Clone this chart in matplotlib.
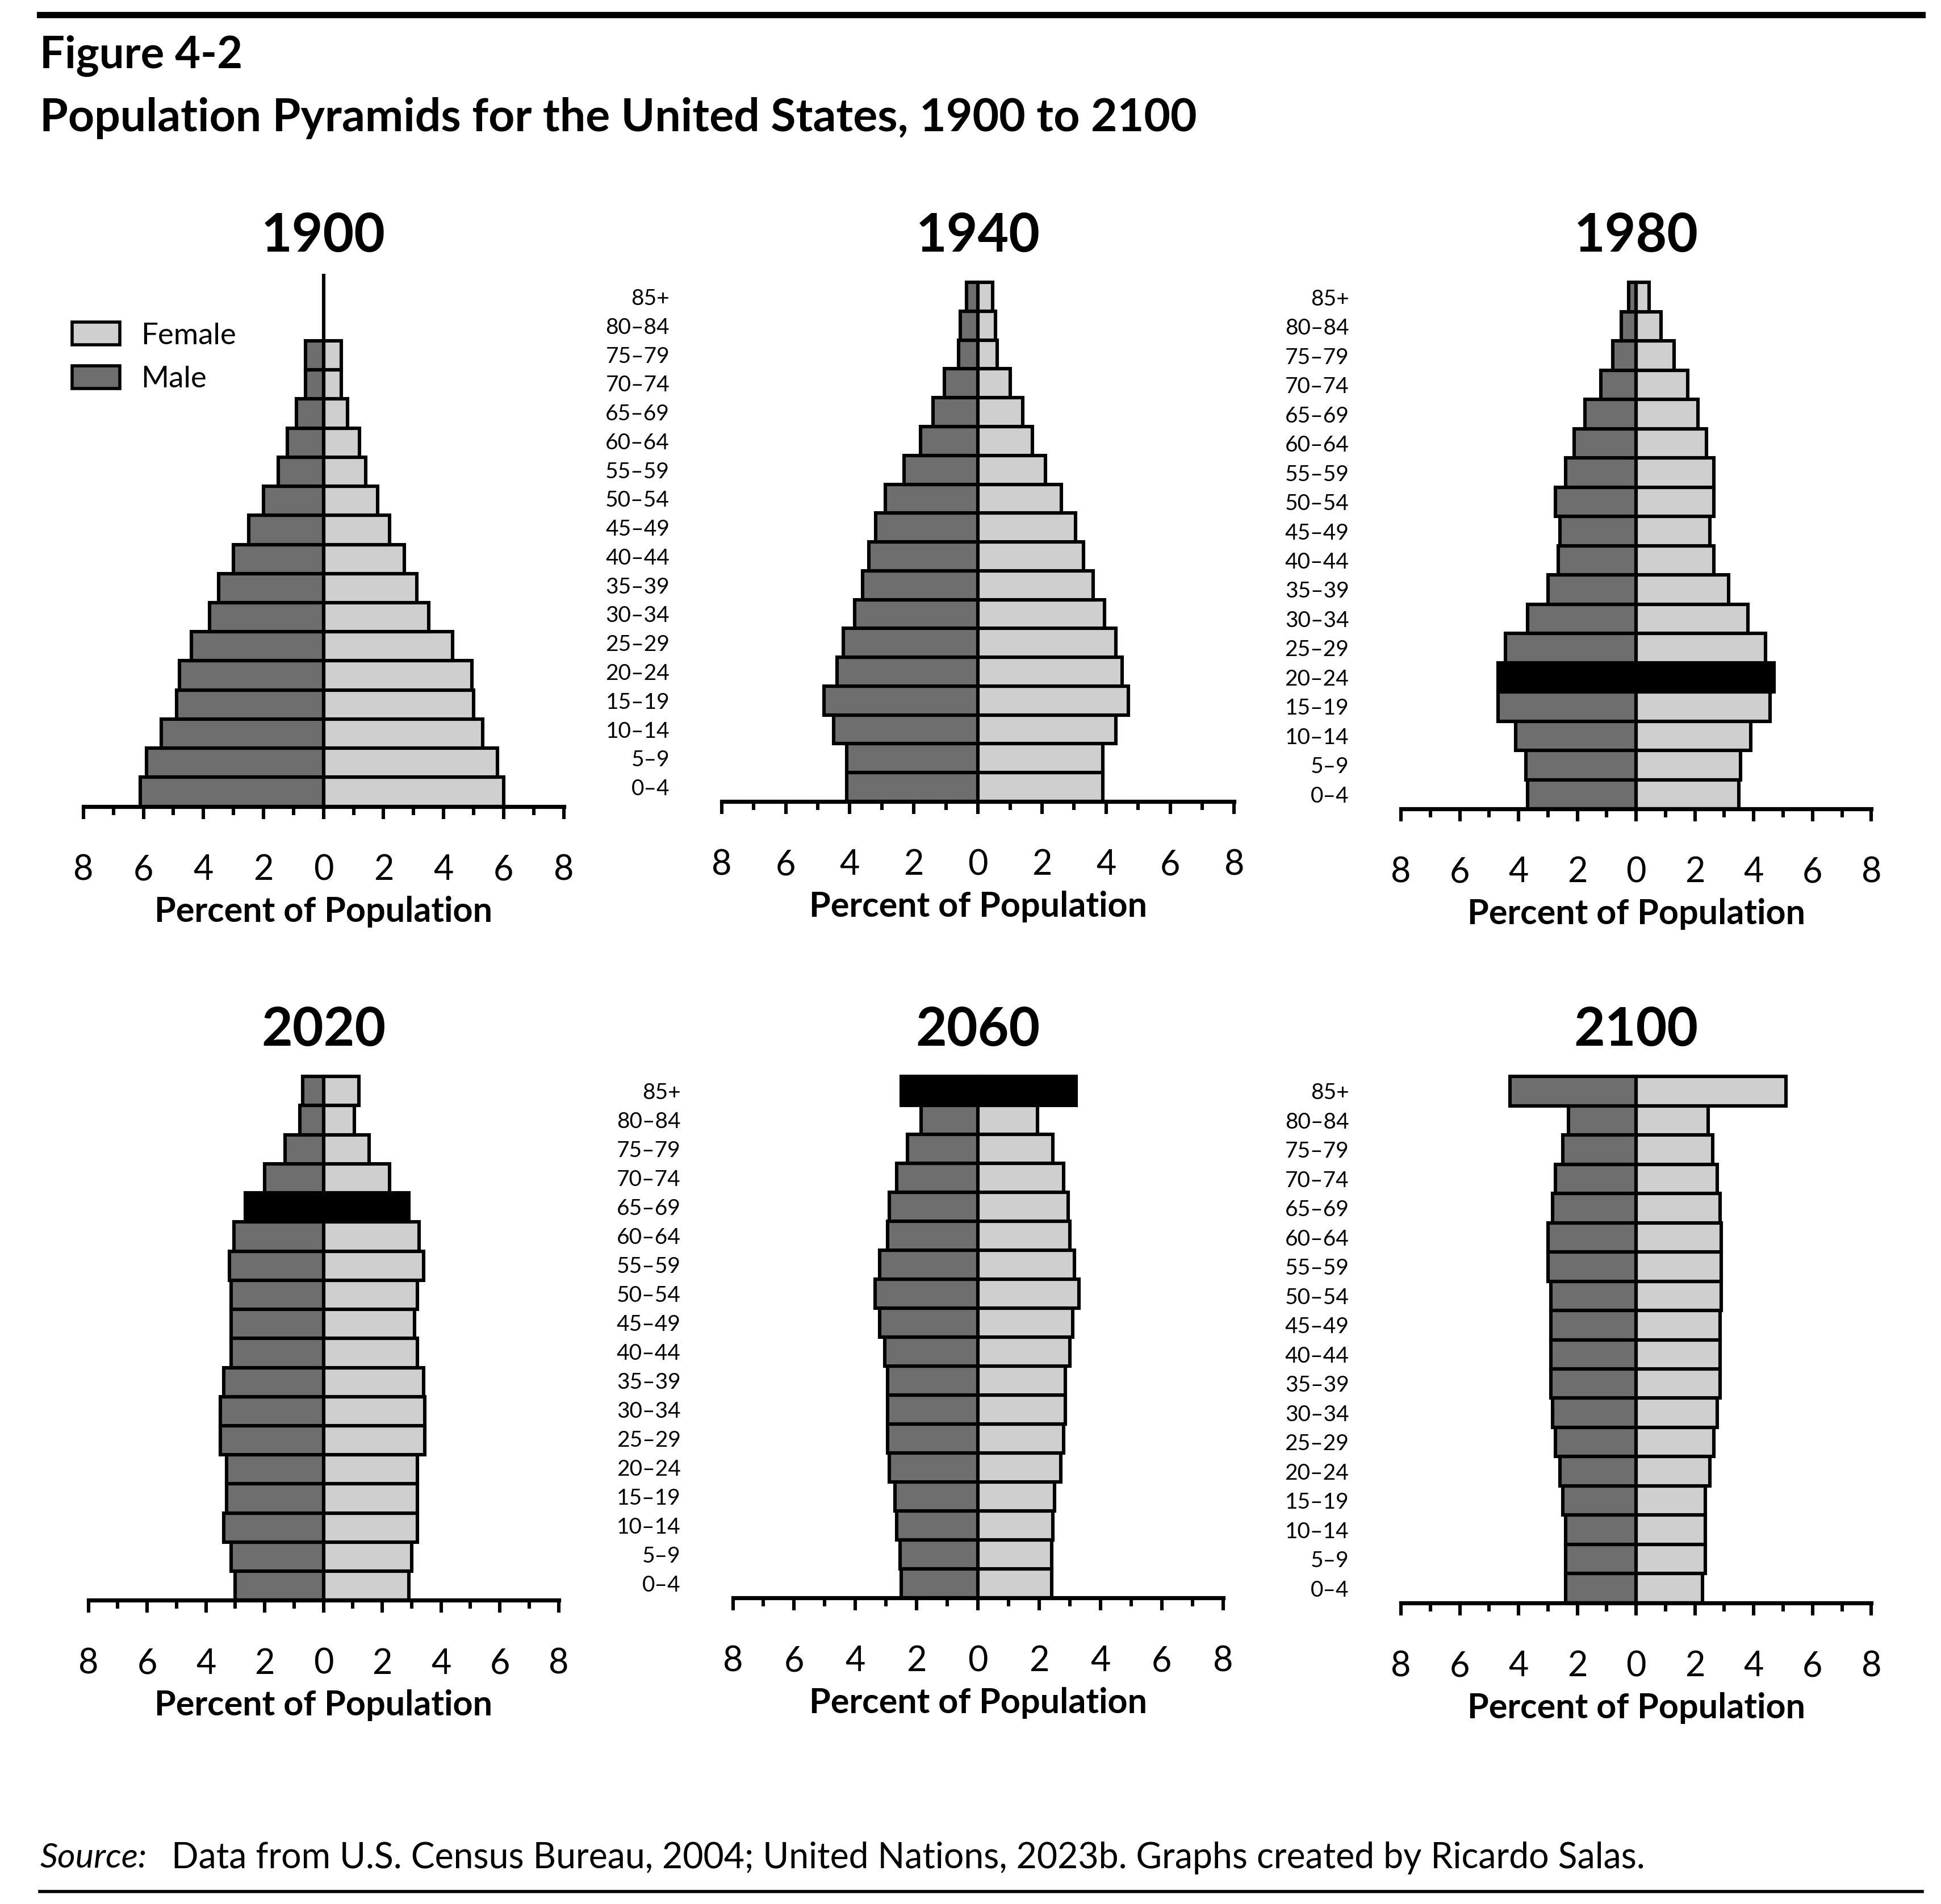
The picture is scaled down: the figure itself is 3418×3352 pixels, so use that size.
import matplotlib
matplotlib.use("Agg")
import matplotlib.pyplot as plt
from matplotlib.patches import Patch
from matplotlib.ticker import MultipleLocator
import numpy as np

plt.rcParams['font.family'] = ['Lato', 'DejaVu Sans']

ages = ["0–4","5–9","10–14","15–19","20–24","25–29","30–34","35–39","40–44","45–49",
        "50–54","55–59","60–64","65–69","70–74","75–79","80–84","85+"]
years = ["1900","1940","1980","2020","2060","2100"]

male = {
 "1900": [6.1,5.9,5.4,4.9,4.8,4.4,3.8,3.5,3.0,2.5,2.0,1.5,1.2,0.9,0.6,0.6,0,0],
 "1940": [4.1,4.1,4.5,4.8,4.4,4.2,3.85,3.6,3.4,3.2,2.9,2.3,1.8,1.4,1.05,0.6,0.55,0.35],
 "1980": [3.7,3.75,4.1,4.7,4.7,4.45,3.7,3.0,2.65,2.6,2.75,2.4,2.1,1.75,1.2,0.8,0.5,0.25],
 "2020": [3.0,3.15,3.4,3.3,3.3,3.5,3.5,3.4,3.15,3.15,3.15,3.2,3.05,2.65,2.0,1.3,0.8,0.7],
 "2060": [2.5,2.55,2.65,2.7,2.9,2.95,2.95,2.95,3.05,3.2,3.35,3.2,2.95,2.9,2.65,2.3,1.85,2.5],
 "2100": [2.4,2.4,2.4,2.5,2.6,2.75,2.85,2.9,2.9,2.9,2.9,3.0,3.0,2.85,2.75,2.5,2.3,4.3],
}
female = {
 "1900": [6.0,5.8,5.3,5.0,4.95,4.3,3.5,3.1,2.7,2.2,1.8,1.4,1.2,0.8,0.6,0.6,0,0],
 "1940": [3.9,3.9,4.3,4.7,4.5,4.3,3.95,3.6,3.3,3.05,2.6,2.1,1.7,1.4,1.0,0.6,0.55,0.45],
 "1980": [3.5,3.55,3.9,4.55,4.7,4.4,3.8,3.15,2.65,2.5,2.65,2.65,2.4,2.1,1.75,1.3,0.85,0.45],
 "2020": [2.9,3.0,3.2,3.2,3.2,3.45,3.45,3.4,3.2,3.1,3.2,3.4,3.25,2.9,2.25,1.55,1.05,1.2],
 "2060": [2.4,2.4,2.45,2.5,2.7,2.8,2.85,2.85,3.0,3.1,3.3,3.15,3.0,2.95,2.8,2.45,1.95,3.2],
 "2100": [2.25,2.35,2.35,2.35,2.5,2.65,2.75,2.85,2.85,2.85,2.9,2.9,2.9,2.85,2.75,2.6,2.45,5.1],
}
highlight = {"1980": "20–24", "2020": "65–69", "2060": "85+"}
show_age_labels = {"1900": False, "1940": True, "1980": True, "2020": False, "2060": True, "2100": True}

MALE_C = "#6e6e6e"
FEMALE_C = "#cfcfcf"

W, H = 1560.0, 1530.0
fig = plt.figure(figsize=(17.09, 16.76), dpi=200)

# (left, right, top, bottom) in reference display px
boxes = {
 "1900": (67, 453, 220, 648),
 "1940": (580, 992, 220, 644),
 "1980": (1126, 1504, 220, 650),
 "2020": (71, 449, 858, 1286),
 "2060": (589, 983, 858, 1284),
 "2100": (1126, 1504, 858, 1288),
}
title_y = {"1900": 190, "1940": 190, "1980": 190, "2020": 828, "2060": 828, "2100": 828}

y = np.arange(len(ages))
for yr in years:
    l, r, t, b = boxes[yr]
    ax = fig.add_axes([l / W, 1 - b / H, (r - l) / W, (b - t) / H])
    m = np.array(male[yr]); f = np.array(female[yr])
    mc = [("black" if highlight.get(yr) == a else MALE_C) for a in ages]
    fc = [("black" if highlight.get(yr) == a else FEMALE_C) for a in ages]
    mask = (m > 0) | (f > 0)
    ax.barh(y[mask], -m[mask], height=1.0, color=np.array(mc)[mask], edgecolor="black", linewidth=2.2, zorder=2)
    ax.barh(y[mask], f[mask], height=1.0, color=np.array(fc)[mask], edgecolor="black", linewidth=2.2, zorder=2)
    ax.set_xlim(-8, 8)
    ax.set_ylim(-0.5, 17.8)
    if yr == "1900":
        ax.axvline(0, color="black", lw=2.2, zorder=3)
    for s in ["top", "right", "left"]:
        ax.spines[s].set_visible(False)
    ax.spines["bottom"].set_linewidth(2.6)
    ax.xaxis.set_minor_locator(MultipleLocator(1))
    ax.set_xticks(np.arange(-8, 9, 2))
    ax.set_xticklabels([str(abs(v)) for v in range(-8, 9, 2)], fontsize=22)
    ax.tick_params(axis="x", which="major", direction="out", length=8, width=2.2, pad=22)
    ax.tick_params(axis="x", which="minor", direction="out", length=5.5, width=2.2)
    ax.set_xlabel("Percent of Population", fontsize=22, fontweight="bold", labelpad=6)
    if show_age_labels[yr]:
        ax.set_yticks(y)
        ax.set_yticklabels(ages, fontsize=14)
        ax.tick_params(axis="y", length=0, pad=33)
    else:
        ax.set_yticks([])
    cx = (l + r) / 2
    fig.text(cx / W, 1 - title_y[yr] / H, yr, fontsize=34, fontweight="bold", ha="center", va="center")
    if yr == "1900":
        handles = [Patch(facecolor=FEMALE_C, edgecolor="black", linewidth=2, label="Female"),
                   Patch(facecolor=MALE_C, edgecolor="black", linewidth=2, label="Male")]
        ax.legend(handles=handles, loc="upper left", bbox_to_anchor=(-0.08, 0.96), frameon=False,
                  fontsize=19, handlelength=1.6, handleheight=0.8, labelspacing=0.55, handletextpad=0.7)

fig.add_artist(plt.Line2D([32 / W, 1545 / W], [1 - 12 / H, 1 - 12 / H], color="black", lw=4))
fig.add_artist(plt.Line2D([32 / W, 1545 / W], [1 - 1520 / H, 1 - 1520 / H], color="black", lw=2))
fig.text(32 / W, 1 - 45 / H, "Figure 4-2", fontsize=28, fontweight="bold", va="center")
fig.text(32 / W, 1 - 95 / H, "Population Pyramids for the United States, 1900 to 2100", fontsize=29,
         fontweight="bold", va="center")
fig.text(32 / W, 1 - 1493 / H, "Source:", fontsize=22, style="italic", va="center")
fig.text(138 / W, 1 - 1493 / H, "Data from U.S. Census Bureau, 2004; United Nations, 2023b. Graphs created by Ricardo Salas.",
         fontsize=22.5, va="center")

fig.savefig("out.png", dpi=200)
